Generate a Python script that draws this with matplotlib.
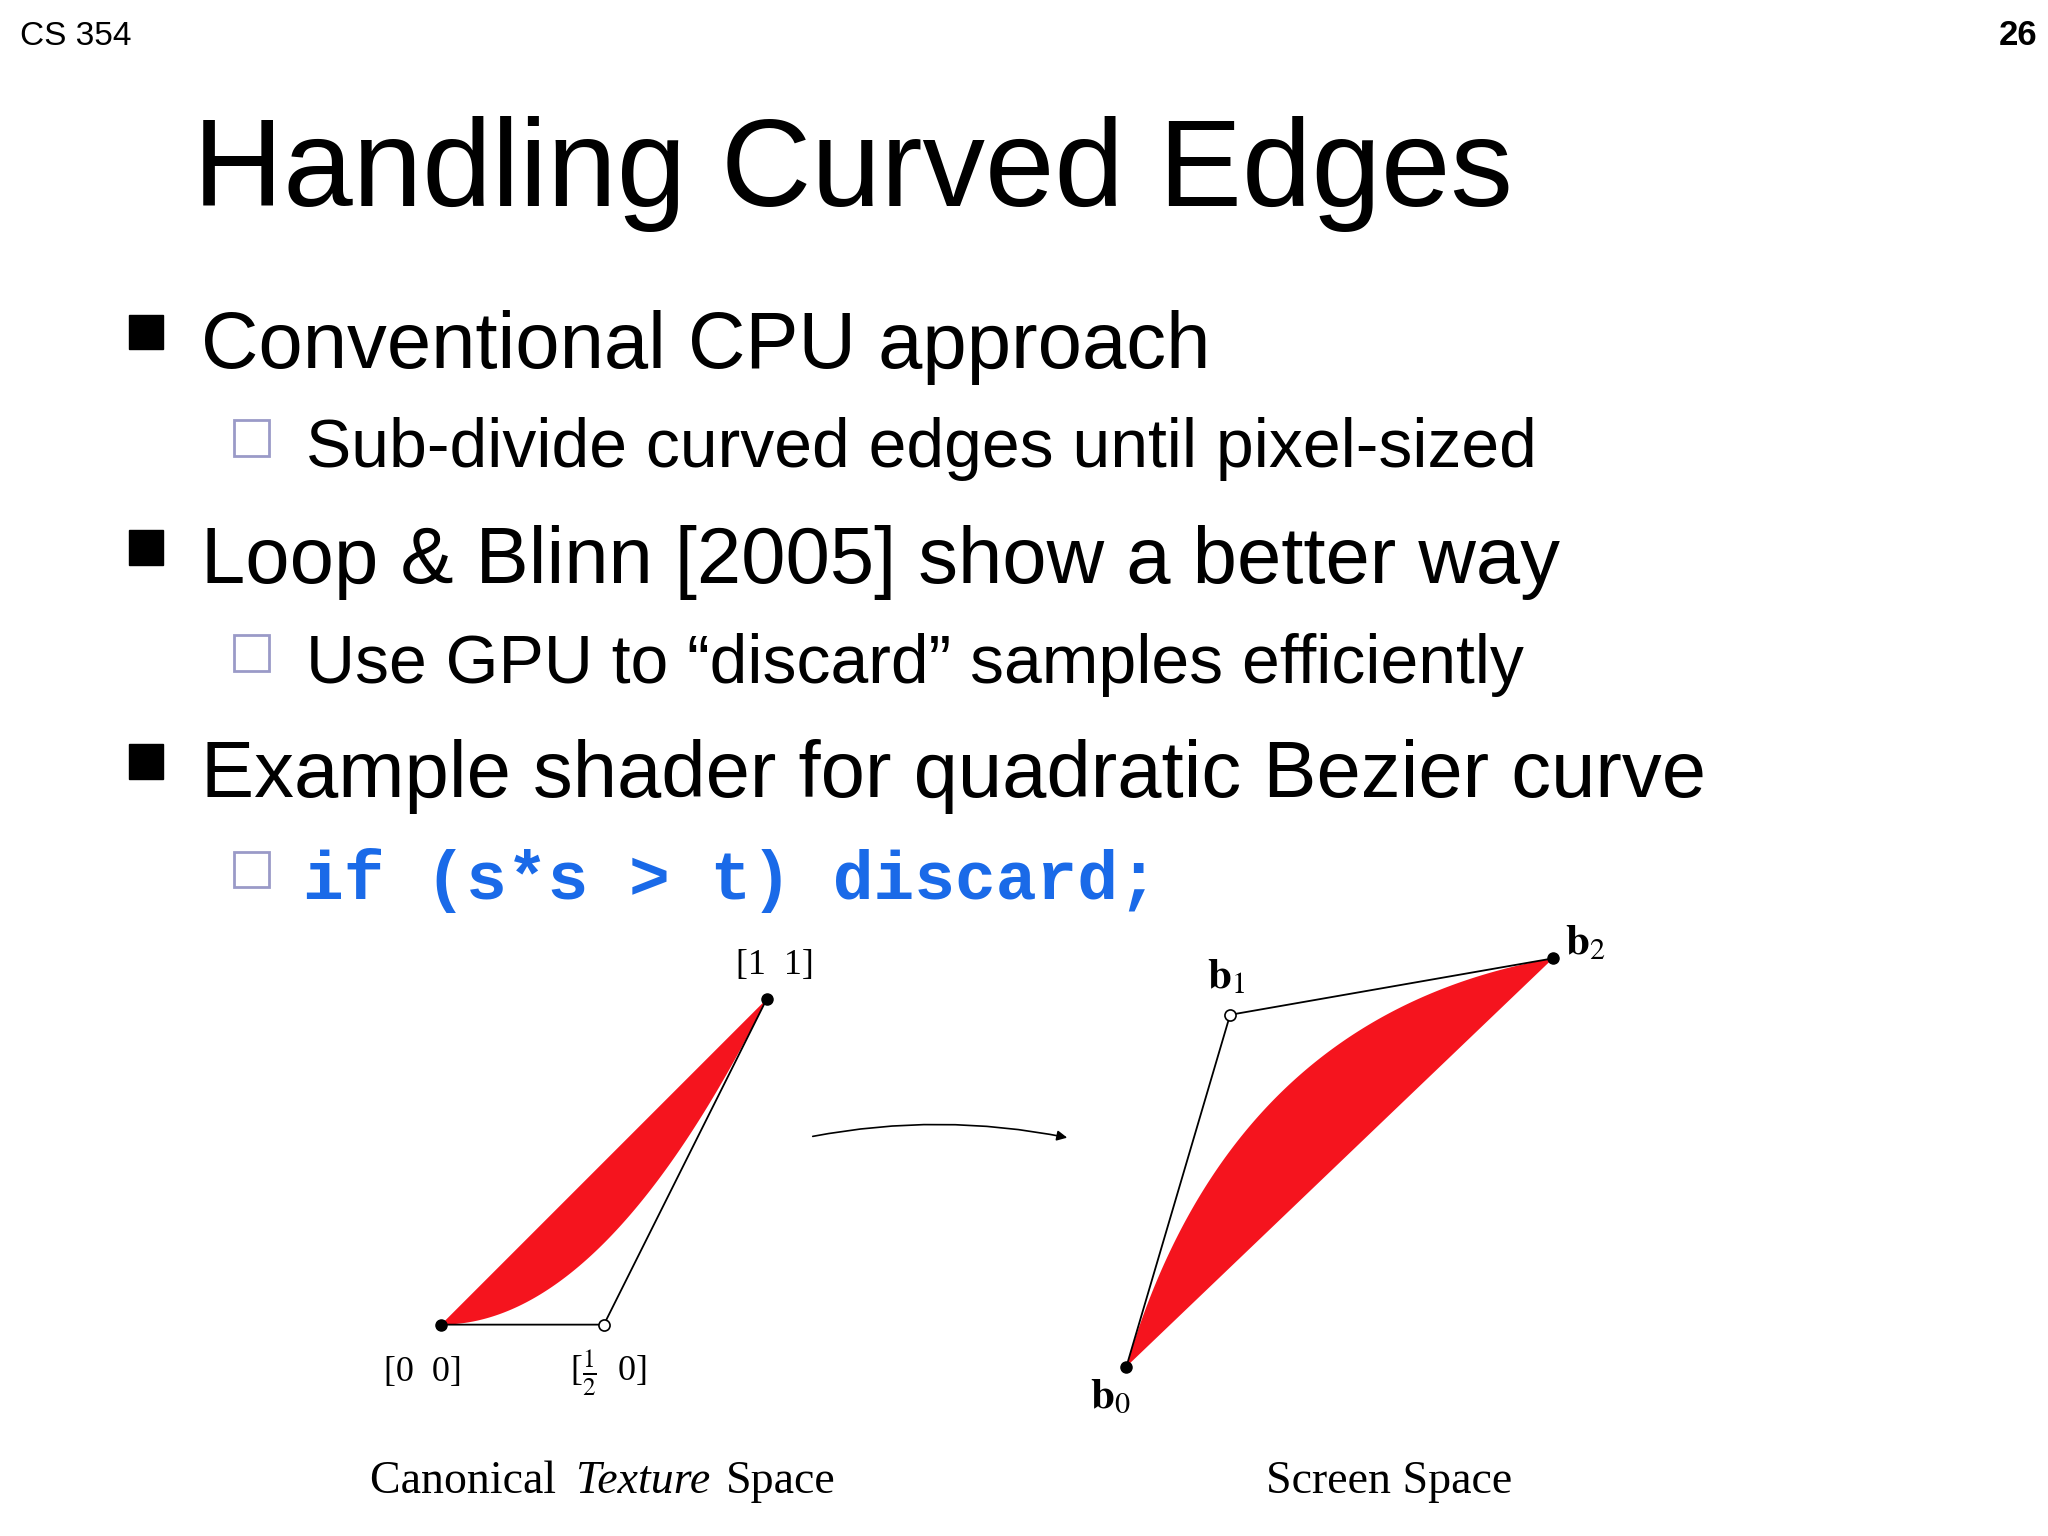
import numpy as np
import matplotlib
matplotlib.use("Agg")
import matplotlib.pyplot as plt
from matplotlib.patches import Polygon, Rectangle

plt.rcParams['mathtext.fontset'] = 'stix'

header_left = "CS 354"
page_num = "26"
title = "Handling Curved Edges"
level1 = ["Conventional CPU approach", "Loop & Blinn [2005] show a better way",
          "Example shader for quadratic Bezier curve"]
level2 = ["Sub-divide curved edges until pixel-sized",
          "Use GPU to \u201cdiscard\u201d samples efficiently"]
code_line = "if (s*s > t) discard;"

# canonical texture-space control points (u, v)
canon_pts = np.array([[0.0, 0.0], [0.5, 0.0], [1.0, 1.0]])
# screen-space control points b0, b1, b2 (slide pixel coords)
screen_pts = np.array([[858, 1041], [937, 773], [1183, 730]])

W, H = 1560, 1170
fig = plt.figure(figsize=(20.48, 15.36), dpi=100)
ax = fig.add_axes([0, 0, 1, 1])
ax.set_xlim(0, W); ax.set_ylim(H, 0); ax.axis('off')
sans = 'Liberation Sans'

ax.text(15, 34, header_left, fontsize=24, family=sans, va='baseline')
ax.text(1552, 34, page_num, fontsize=25, family=sans, weight='bold', ha='right', va='baseline')
ax.text(147, 157, title, fontsize=90, family=sans, va='baseline')

l1_y = [280, 444, 607]
for y, s in zip(l1_y, level1):
    ax.add_patch(Rectangle((98, y - 40), 26, 26, color='black'))
    ax.text(153, y, s, fontsize=57.3, family=sans, va='baseline')
l2_y = [356, 520, 685]
for y, s in zip(l2_y, level2 + [code_line]):
    ax.add_patch(Rectangle((178, y - 36), 27, 27, fill=False, ec='#9a9ac8', lw=2))
for y, s in zip(l2_y[:2], level2):
    ax.text(233, y, s, fontsize=48.9, family=sans, va='baseline')
ax.text(231, l2_y[2], code_line, fontsize=49, family='Liberation Mono',
        weight='bold', color='#1a6ae8', va='baseline')

def bez(P, t):
    t = t[:, None]
    return (1-t)**2*P[0] + 2*t*(1-t)*P[1] + t**2*P[2]

t = np.linspace(0, 1, 200)
# left diagram
ox, oy, sc = 336, 1009, 248
C = np.column_stack([ox + canon_pts[:, 0]*sc, oy - canon_pts[:, 1]*sc])
curve = bez(C, t)
ax.add_patch(Polygon(np.vstack([curve, C[:1]]), closed=True, color='#f5141e', lw=0))
ax.plot([C[0,0], C[1,0], C[2,0]], [C[0,1], C[1,1], C[2,1]], color='black', lw=1.3)
ax.plot(C[[0,2],0], C[[0,2],1], 'o', color='black', ms=8)
ax.plot(C[1,0], C[1,1], 'o', mfc='white', mec='black', ms=8, mew=1.2)
serif = 'Liberation Serif'
ax.text(322, 1052, "[0  0]", fontsize=26, family=serif, ha='center', va='baseline')
ax.text(463, 1052, r"[$\frac{1}{2}$  0]", fontsize=26, family=serif, ha='center', va='baseline')
ax.text(590, 742, "[1  1]", fontsize=26, family=serif, ha='center', va='baseline')

# right diagram
S = screen_pts.astype(float)
curve = bez(S, t)
ax.add_patch(Polygon(np.vstack([curve, S[:1]]), closed=True, color='#f5141e', lw=0))
ax.plot(S[:,0], S[:,1], color='black', lw=1.3)
ax.plot(S[[0,2],0], S[[0,2],1], 'o', color='black', ms=8)
ax.plot(S[1,0], S[1,1], 'o', mfc='white', mec='black', ms=8, mew=1.2)
ax.text(846, 1073, r"$\mathbf{b}_0$", fontsize=31, ha='center', va='baseline')
ax.text(934, 753, r"$\mathbf{b}_1$", fontsize=31, ha='center', va='baseline')
ax.text(1208, 727, r"$\mathbf{b}_2$", fontsize=31, ha='center', va='baseline')

ax.annotate("", xy=(815, 867), xytext=(617, 866),
            arrowprops=dict(arrowstyle='-|>', color='black', lw=1.2,
                            connectionstyle='arc3,rad=-0.1', mutation_scale=15))

ax.text(282, 1137, "Canonical ", fontsize=33, family=serif, va='baseline')
ax.text(439, 1137, "Texture", fontsize=33, family=serif, style='italic', va='baseline')
ax.text(553, 1137, "Space", fontsize=33, family=serif, va='baseline')
ax.text(1058, 1137, "Screen Space", fontsize=33, family=serif, ha='center', va='baseline')

fig.savefig("out.png", dpi=100)
